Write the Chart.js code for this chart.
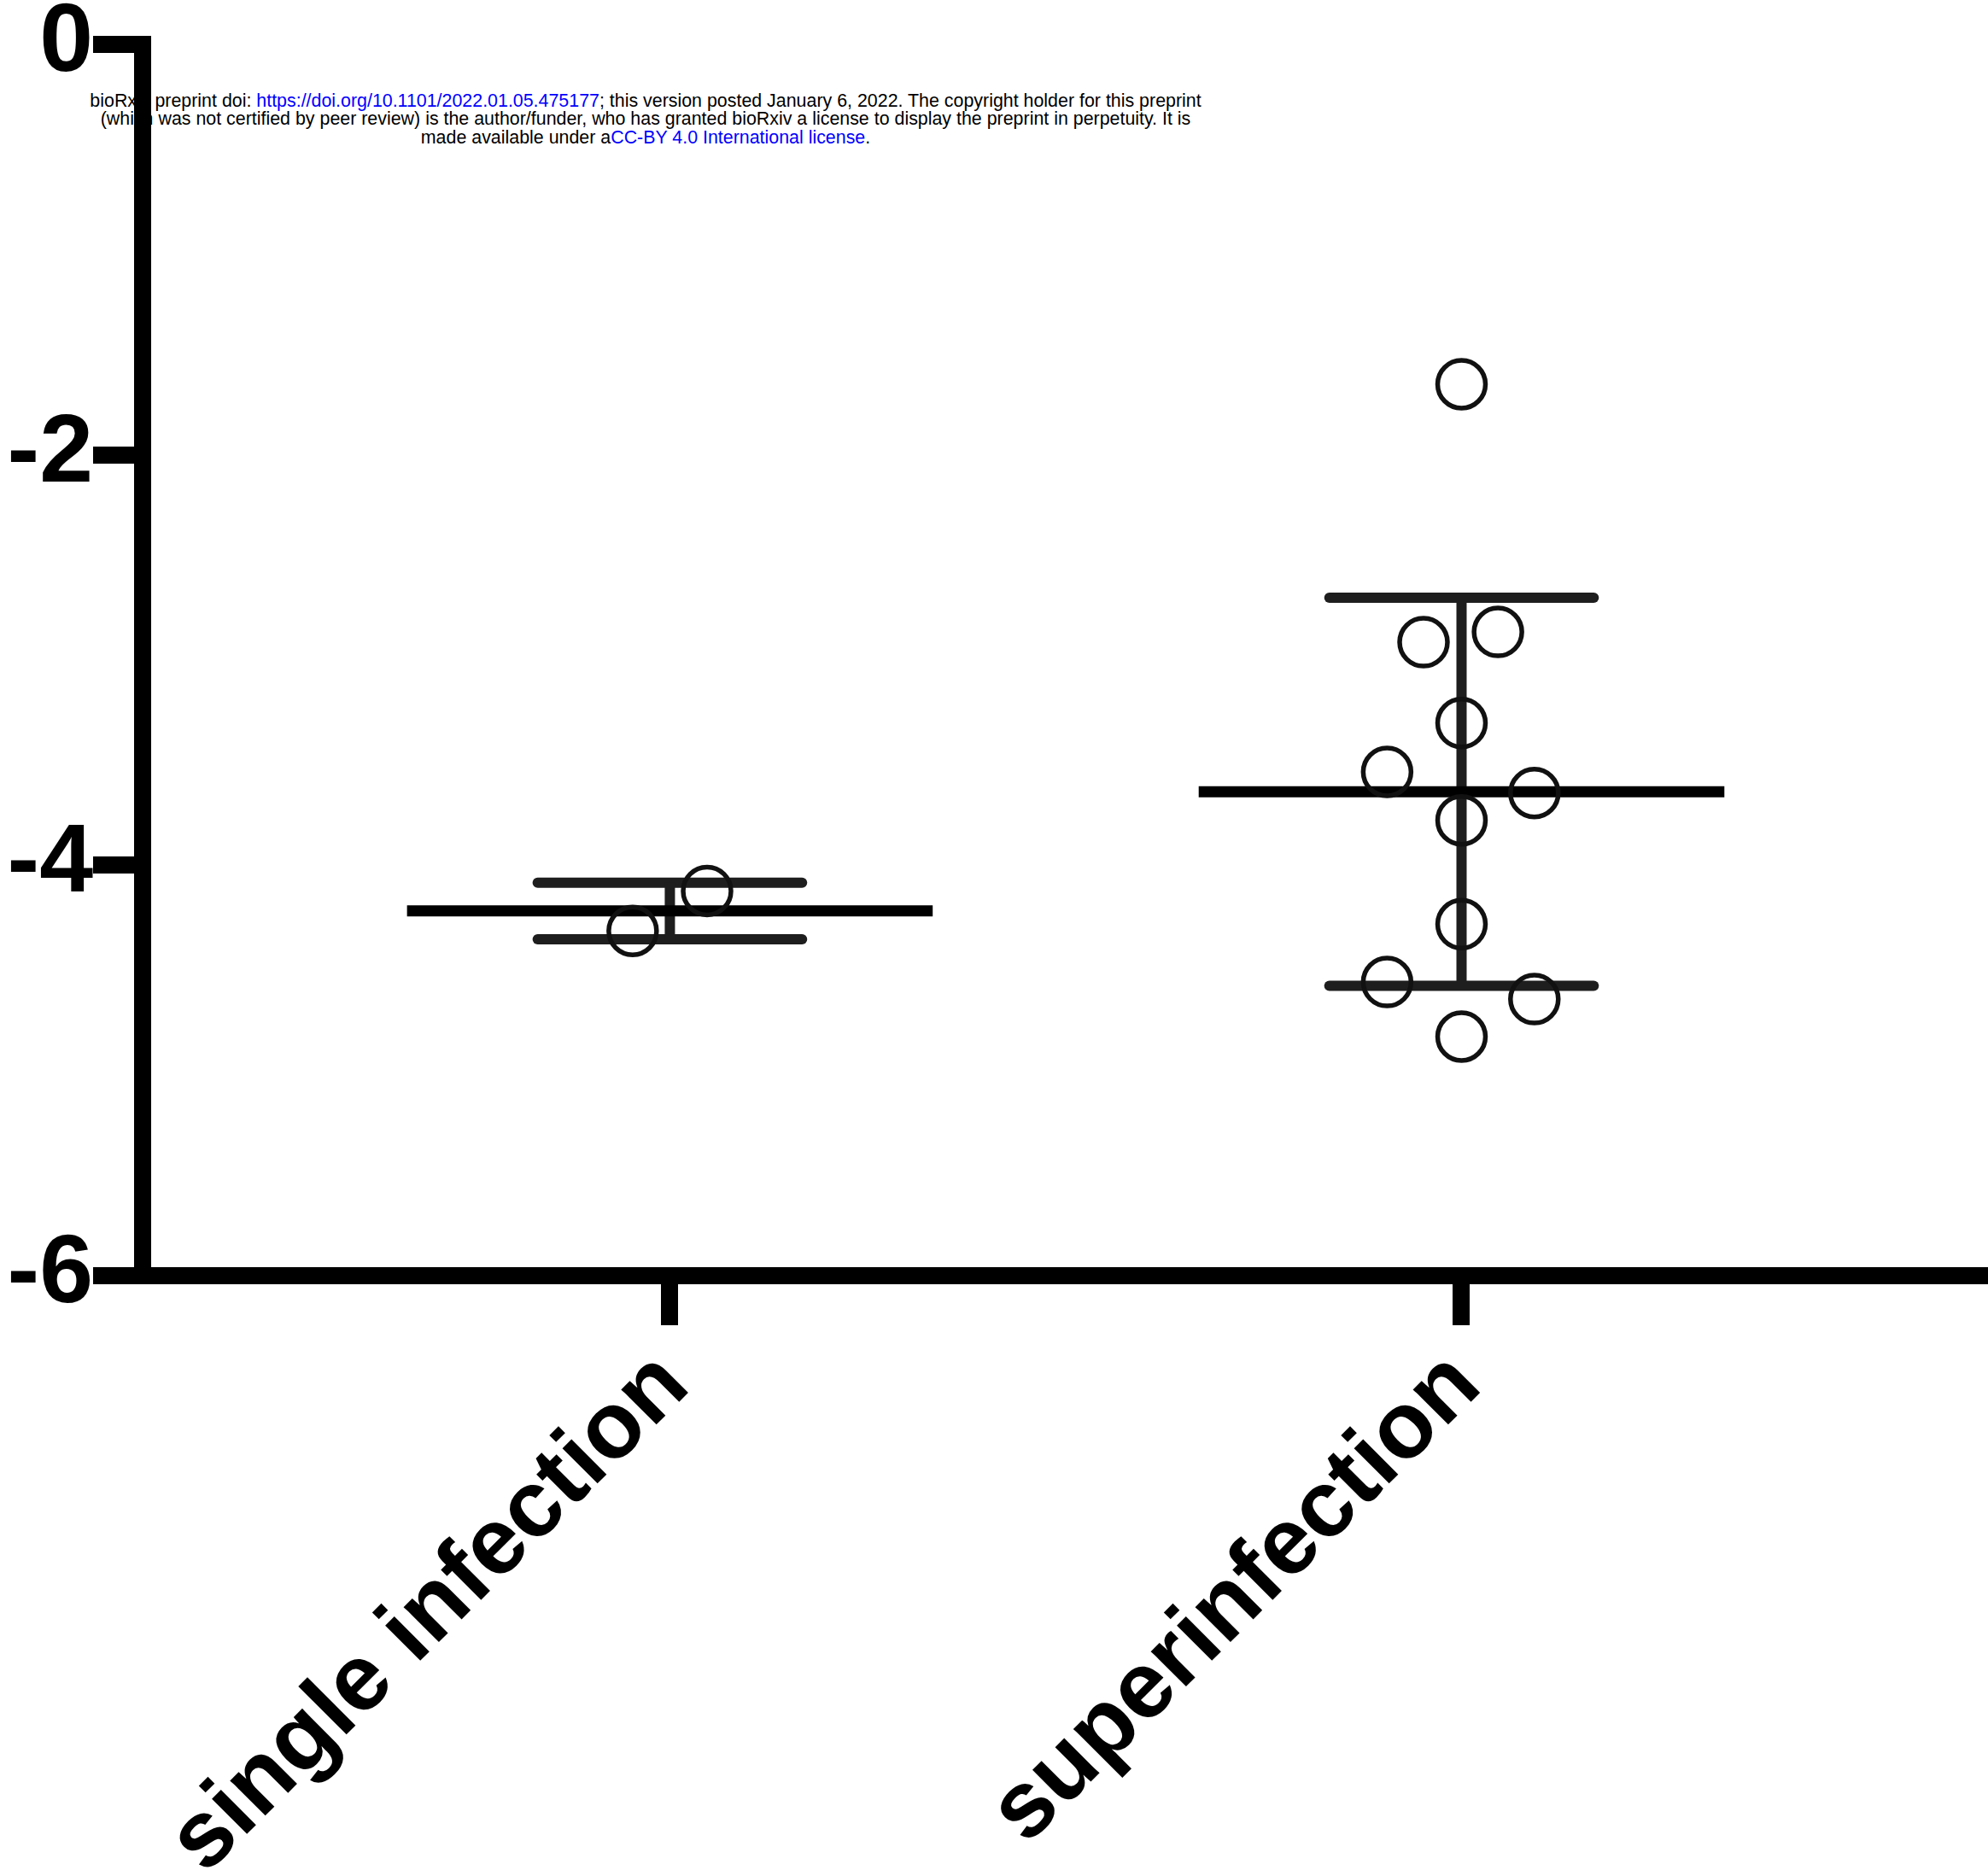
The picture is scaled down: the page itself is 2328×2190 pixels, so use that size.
<!DOCTYPE html>
<html>
<head>
<meta charset="utf-8">
<title>Single infection vs superinfection</title>
<script src="https://cdn.jsdelivr.net/npm/chart.js@4.4.0/dist/chart.umd.min.js"></script>
<style>
  html, body { margin: 0; padding: 0; background: #fff; }
  #wrap { position: relative; width: 2328px; height: 2190px; }
  #notice {
    position: absolute; left: 0; top: 107.5px; width: 1512px;
    text-align: center; color: #000; z-index: 0; white-space: nowrap;
    font-family: 'Liberation Sans', Arial, sans-serif; font-size: 21.4px; line-height: 21.5px;
  }
  #notice .link { color: #0000ff; }
  #chart { position: absolute; left: 0; top: 0; z-index: 1; }
</style>
</head>
<body>
<div id="wrap">
  <div id="notice">bioRxiv preprint doi: <span class="link">https://doi.org/10.1101/2022.01.05.475177</span>; this version posted January 6, 2022. The copyright holder for this preprint<br>(which was not certified by peer review) is the author/funder, who has granted bioRxiv a license to display the preprint in perpetuity. It is<br>made available under a<span class="link">CC-BY 4.0 International license</span>.</div>
  <canvas id="chart" width="2328" height="2190"></canvas>
</div>
<script>
const categories = ['single infection', 'superinfection'];

// one value per animal; jitter is the sideways spread inside each column
const singleValues = [-4.320, -4.125];
const singleJitter = [-0.047, 0.047];
const superValues = [-1.656, -2.913, -2.863, -3.307, -3.545, -3.648, -3.781, -4.287, -4.569, -4.652, -4.835];
const superJitter = [0, -0.048, 0.046, 0, -0.094, 0.092, 0, 0, -0.094, 0.092, 0];

const yTicks = [0, -2, -4, -6];

const groups = [
  { pos: 1, values: singleValues, jitter: singleJitter },
  { pos: 2, values: superValues, jitter: superJitter }
];

const MEAN_HALF = 0.332;   // half length of the mean bar, in x units
const CAP_HALF = 0.167;    // half length of the SD caps
const FONT = "'Liberation Sans', Arial, sans-serif";

function mean(a) { return a.reduce((s, v) => s + v, 0) / a.length; }
function sd(a) {
  const m = mean(a);
  return Math.sqrt(a.reduce((s, v) => s + (v - m) ** 2, 0) / (a.length - 1));
}

const datasets = [];
groups.forEach(g => {
  const m = mean(g.values);
  const s = sd(g.values);
  const seg = (pts, width, color, cap) => datasets.push({
    data: pts, showLine: true, pointRadius: 0, pointHoverRadius: 0,
    borderColor: color, borderWidth: width, borderCapStyle: cap, order: 2
  });
  seg([{ x: g.pos - MEAN_HALF, y: m }, { x: g.pos + MEAN_HALF, y: m }], 13, '#000', 'butt');
  seg([{ x: g.pos, y: m - s }, { x: g.pos, y: m + s }], 12, '#1e1e1e', 'butt');
  seg([{ x: g.pos - CAP_HALF, y: m + s }, { x: g.pos + CAP_HALF, y: m + s }], 12, '#1e1e1e', 'round');
  seg([{ x: g.pos - CAP_HALF, y: m - s }, { x: g.pos + CAP_HALF, y: m - s }], 12, '#1e1e1e', 'round');
  datasets.push({
    data: g.values.map((v, i) => ({ x: g.pos + g.jitter[i], y: v })),
    pointStyle: 'circle', pointRadius: 28, pointHoverRadius: 28,
    pointBorderWidth: 5.5, pointBorderColor: '#111', pointBackgroundColor: 'rgba(0,0,0,0)',
    order: 1
  });
});

const axisGrid = { drawOnChartArea: false, drawTicks: true, tickLength: 58, tickWidth: 20, lineWidth: 20, color: '#000', tickColor: '#000' };
const axisBorder = { display: true, width: 20, color: '#000' };

new Chart(document.getElementById('chart'), {
  type: 'scatter',
  data: { datasets },
  options: {
    responsive: false,
    animation: false,
    events: [],
    layout: { autoPadding: false, padding: { top: 52, left: 0, right: 0, bottom: 0 } },
    plugins: { legend: { display: false }, tooltip: { enabled: false } },
    scales: {
      x: {
        type: 'linear', min: 0.334, max: 2.665,
        afterBuildTicks: sc => { sc.ticks = categories.map((c, i) => ({ value: i + 1 })); },
        afterFit: sc => { sc.height = 696; sc.paddingLeft = 0; sc.paddingRight = 0; },
        grid: axisGrid,
        border: axisBorder,
        ticks: {
          autoSkip: false, minRotation: 45, maxRotation: 45, padding: 6, labelOffset: 5,
          color: '#000', font: { family: FONT, size: 110, weight: 'bold' },
          callback: v => categories[v - 1]
        }
      },
      y: {
        min: -6, max: 0,
        afterBuildTicks: sc => { sc.ticks = yTicks.map(v => ({ value: v })); },
        afterFit: sc => { sc.width = 167; sc.paddingTop = 0; sc.paddingBottom = 0; },
        grid: axisGrid,
        border: axisBorder,
        ticks: { padding: 0, color: '#000', font: { family: FONT, size: 113, weight: 'bold' }, callback: v => String(v) }
      }
    }
  }
});
</script>
</body>
</html>
